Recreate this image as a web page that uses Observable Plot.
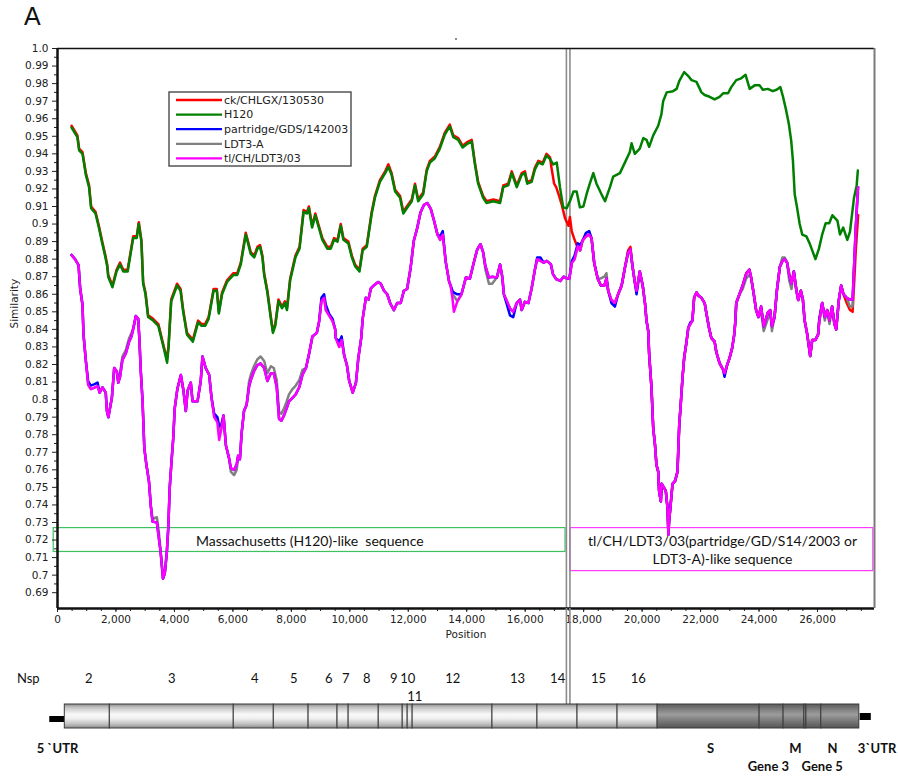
<!DOCTYPE html>
<html><head><meta charset="utf-8">
<script src="https://cdn.jsdelivr.net/npm/d3@7"></script>
<script src="https://cdn.jsdelivr.net/npm/@observablehq/plot@0.6"></script>
<style>
body{margin:0;background:#fff;}
#wrap{position:relative;width:898px;height:776px;overflow:hidden;background:#fff;}
#wrap svg{position:absolute;left:0;}
#titleA{position:absolute;left:24px;top:4px;font:25px "Liberation Sans",Arial,sans-serif;color:#111;line-height:25px;}
#speck{position:absolute;left:455px;top:38px;width:2px;height:2px;background:#666;border-radius:1px;}
</style></head><body><div id="wrap"><div id="titleA">A</div><div id="speck"></div></div>
<script>
// ---------- data ----------
const seriesNames = ["ck/CHLGX/130530","H120","partridge/GDS/142003","LDT3-A","tl/CH/LDT3/03"];
const seriesColors = ["#ff0000","#008000","#0000ff","#808080","#ff00ff"];

const h120 = [[480,.955],[680,.9495],[740,.942],[855,.940],[970,.928],[1080,.921],[1150,.909],[1300,.906],[1415,.898],[1530,.889],[1640,.881],[1700,.876],[1735,.870],[1880,.864],[2020,.873],[2140,.877],[2250,.873],[2400,.873],[2510,.884],[2590,.892],[2710,.892],[2780,.900],[2870,.890],[2930,.866],[3010,.860],[3100,.847],[3270,.845],[3450,.842],[3640,.829],[3750,.821],[3800,.830],[3890,.856],[4090,.865],[4210,.862],[4300,.850],[4430,.837],[4630,.833],[4810,.844],[4930,.842],[5050,.842],[5170,.846],[5340,.862],[5450,.862],[5520,.849],[5630,.860],[5800,.867],[6020,.871],[6150,.871],[6270,.877],[6440,.894],[6520,.889],[6610,.883],[6730,.881],[6840,.886],[6930,.887],[7010,.881],[7070,.871],[7180,.861],[7300,.846],[7370,.838],[7450,.842],[7560,.856],[7680,.852],[7780,.855],[7850,.851],[7960,.868],[8140,.881],[8280,.886],[8420,.907],[8540,.906],[8600,.909],[8710,.898],[8820,.905],[8940,.898],[9060,.891],[9230,.886],[9350,.886],[9460,.891],[9580,.890],[9690,.899],[9780,.891],[9950,.889],[10070,.881],[10180,.876],[10330,.873],[10440,.885],[10580,.887],[10750,.906],[10860,.915],[11030,.924],[11210,.929],[11320,.9325],[11430,.928],[11550,.9185],[11720,.915],[11830,.906],[11950,.909],[12120,.913],[12230,.922],[12340,.913],[12510,.917],[12630,.930],[12740,.935],[12910,.9375],[13080,.943],[13250,.951],[13420,.9556],[13540,.9495],[13710,.948],[13860,.9436],[14000,.9455],[14170,.947],[14280,.934],[14390,.923],[14560,.915],[14680,.912],[14910,.913],[15140,.912],[15250,.921],[15420,.922],[15540,.929],[15710,.921],[15880,.928],[15990,.929],[16070,.923],[16220,.924],[16330,.931],[16450,.935],[16600,.934],[16730,.939],[16850,.937],[16960,.934],[17080,.935],[17190,.921],[17300,.9095],[17420,.909],[17530,.913],[17650,.9185],[17760,.9185],[17870,.9095],[17990,.910],[18100,.917],[18210,.923],[18330,.929],[18440,.923],[18610,.917],[18730,.913],[18900,.921],[19010,.927],[19240,.929],[19410,.935],[19580,.941],[19640,.946],[19750,.940],[19920,.943],[20040,.949],[20150,.948],[20240,.944],[20380,.9505],[20550,.956],[20660,.9625],[20720,.970],[20840,.975],[21060,.9757],[21180,.977],[21270,.9814],[21440,.9866],[21580,.9843],[21690,.982],[21860,.981],[22030,.975],[22140,.9735],[22310,.9725],[22480,.971],[22650,.9725],[22770,.9745],[22940,.9745],[23050,.978],[23220,.982],[23390,.983],[23540,.985],[23680,.977],[23850,.979],[24020,.979],[24130,.9765],[24300,.977],[24470,.9757],[24600,.9765],[24730,.978],[24820,.9725],[24930,.9646],[25020,.957],[25100,.9475],[25160,.936],[25220,.917],[25300,.9095],[25390,.900],[25480,.894],[25620,.893],[25730,.889],[25820,.885],[25930,.880],[26050,.886],[26160,.894],[26280,.9005],[26400,.9005],[26510,.905],[26680,.902],[26770,.894],[26880,.898],[27020,.891],[27110,.8955],[27250,.915],[27340,.922],[27380,.9305]];

const tl = [[480,.8824],[600,.880],[720,.8766],[775,.8633],[855,.854],[890,.837],[970,.822],[1050,.8084],[1140,.806],[1250,.8067],[1370,.8077],[1440,.804],[1540,.807],[1650,.804],[1690,.7935],[1740,.790],[1860,.801],[1940,.818],[2030,.816],[2080,.8096],[2140,.813],[2220,.8225],[2340,.8264],[2450,.833],[2530,.836],[2600,.841],[2680,.8476],[2760,.846],[2800,.835],[2850,.816],[2910,.799],[2970,.7724],[3040,.763],[3130,.7533],[3190,.7398],[3250,.7305],[3400,.730],[3470,.7207],[3530,.713],[3610,.698],[3670,.701],[3740,.713],[3790,.727],[3840,.750],[3900,.7647],[3960,.778],[4010,.795],[4100,.806],[4220,.814],[4310,.805],[4390,.7935],[4450,.805],[4560,.8097],[4620,.799],[4790,.799],[4900,.8106],[4960,.8245],[5070,.818],[5190,.814],[5270,.801],[5360,.790],[5470,.787],[5530,.777],[5610,.7835],[5680,.791],[5760,.774],[5870,.7665],[5930,.761],[6040,.760],[6130,.763],[6180,.768],[6240,.766],[6300,.781],[6380,.7935],[6470,.797],[6550,.807],[6610,.811],[6720,.816],[6840,.8197],[6950,.8206],[7070,.818],[7180,.8106],[7300,.815],[7400,.815],[7500,.807],[7580,.789],[7660,.788],[7750,.791],[7840,.795],[7920,.799],[8040,.801],[8150,.803],[8270,.807],[8380,.814],[8500,.818],[8610,.8264],[8720,.836],[8870,.838],[8950,.8445],[9030,.856],[9120,.858],[9180,.851],[9290,.848],[9410,.8447],[9500,.840],[9520,.835],[9640,.830],[9720,.834],[9810,.825],[9900,.8197],[9980,.8106],[10100,.804],[10210,.8097],[10290,.8235],[10390,.835],[10440,.846],[10550,.858],[10640,.857],[10720,.8633],[10830,.8652],[10970,.867],[11060,.866],[11170,.862],[11280,.860],[11390,.8545],[11510,.851],[11620,.855],[11740,.855],[11850,.862],[11960,.863],[12080,.875],[12190,.8905],[12310,.898],[12420,.9067],[12540,.911],[12650,.912],[12770,.9086],[12880,.902],[13000,.894],[13090,.891],[13180,.894],[13280,.8786],[13400,.867],[13450,.865],[13510,.858],[13560,.850],[13680,.856],[13820,.860],[13970,.8695],[14110,.869],[14240,.878],[14360,.8856],[14470,.8885],[14560,.884],[14640,.876],[14760,.8695],[14870,.870],[15030,.8695],[15140,.877],[15220,.8695],[15270,.860],[15360,.8567],[15480,.852],[15590,.850],[15710,.855],[15820,.857],[15880,.851],[15990,.8557],[16110,.855],[16220,.8633],[16330,.8738],[16410,.880],[16520,.879],[16630,.878],[16740,.879],[16880,.877],[16950,.8715],[17060,.8686],[17200,.8676],[17310,.870],[17420,.869],[17510,.869],[17600,.878],[17690,.880],[17800,.8875],[17880,.885],[17960,.8905],[18080,.893],[18190,.894],[18270,.892],[18360,.878],[18480,.869],[18590,.865],[18710,.865],[18780,.869],[18840,.862],[18950,.8567],[19070,.855],[19180,.860],[19300,.865],[19410,.875],[19520,.8837],[19600,.8856],[19670,.876],[19750,.867],[19810,.862],[19920,.873],[20020,.865],[20100,.8547],[20150,.845],[20210,.839],[20240,.826],[20320,.807],[20380,.7837],[20440,.7743],[20490,.7629],[20550,.759],[20580,.748],[20640,.742],[20670,.752],[20740,.750],[20810,.748],[20870,.738],[20900,.723],[20920,.730],[20980,.7407],[21040,.752],[21130,.7537],[21210,.759],[21270,.7856],[21320,.797],[21380,.812],[21440,.824],[21520,.833],[21580,.841],[21650,.843],[21720,.845],[21780,.858],[21860,.861],[21940,.859],[22030,.858],[22140,.855],[22200,.849],[22290,.8408],[22370,.835],[22480,.833],[22540,.827],[22650,.8208],[22770,.817],[22820,.815],[22910,.8198],[22990,.8236],[23080,.8293],[23150,.8369],[23190,.8445],[23220,.855],[23330,.860],[23440,.865],[23560,.8715],[23670,.874],[23730,.8695],[23820,.860],[23900,.851],[23980,.847],[24070,.853],[24160,.8417],[24300,.8496],[24380,.851],[24440,.8418],[24530,.847],[24610,.862],[24710,.8755],[24800,.879],[24880,.880],[24960,.878],[25030,.8714],[25110,.866],[25190,.873],[25280,.862],[25340,.8567],[25430,.862],[25500,.857],[25560,.845],[25640,.838],[25700,.831],[25750,.8248],[25820,.834],[25930,.834],[26020,.837],[26060,.8445],[26160,.855],[26250,.847],[26330,.851],[26410,.845],[26500,.853],[26580,.843],[26640,.840],[26730,.8567],[26810,.865],[26890,.860],[27000,.858],[27110,.857],[27200,.857],[27250,.8755],[27310,.898],[27370,.917],[27390,.921]];

const partridge = [[480,.8824],[600,.880],[720,.8766],[775,.8633],[855,.854],[890,.837],[970,.822],[1050,.8104],[1140,.808],[1250,.8087],[1370,.8097],[1440,.804],[1540,.807],[1650,.804],[1690,.7935],[1740,.790],[1860,.801],[1940,.818],[2030,.816],[2080,.8096],[2140,.813],[2220,.8225],[2340,.8264],[2450,.833],[2530,.836],[2600,.841],[2680,.8476],[2760,.846],[2800,.835],[2850,.816],[2910,.799],[2970,.7724],[3040,.763],[3130,.7533],[3190,.7398],[3250,.7305],[3400,.730],[3470,.7207],[3530,.713],[3610,.698],[3670,.701],[3740,.713],[3790,.727],[3840,.750],[3900,.7647],[3960,.778],[4010,.795],[4100,.806],[4220,.814],[4310,.805],[4390,.7935],[4450,.805],[4560,.8097],[4620,.799],[4790,.799],[4900,.8106],[4960,.8245],[5070,.818],[5190,.814],[5270,.801],[5360,.792],[5470,.790],[5530,.785],[5610,.786],[5680,.791],[5760,.774],[5870,.7665],[5930,.761],[6040,.760],[6130,.763],[6180,.768],[6240,.766],[6300,.781],[6380,.7935],[6470,.797],[6550,.807],[6610,.811],[6720,.816],[6840,.8197],[6950,.8206],[7070,.818],[7180,.8106],[7300,.815],[7400,.815],[7500,.807],[7580,.789],[7660,.788],[7750,.791],[7840,.795],[7920,.799],[8040,.801],[8150,.803],[8270,.807],[8380,.814],[8500,.818],[8610,.8264],[8720,.836],[8870,.838],[8950,.8445],[9030,.858],[9120,.860],[9180,.854],[9290,.849],[9410,.846],[9500,.840],[9520,.835],[9640,.833],[9720,.836],[9810,.825],[9900,.8197],[9980,.8106],[10100,.804],[10210,.8097],[10290,.8235],[10390,.835],[10440,.846],[10550,.858],[10640,.857],[10720,.8633],[10830,.8652],[10970,.867],[11060,.866],[11170,.862],[11280,.860],[11390,.8545],[11510,.851],[11620,.855],[11740,.855],[11850,.862],[11960,.863],[12080,.875],[12190,.8905],[12310,.898],[12420,.9067],[12540,.911],[12650,.912],[12770,.9086],[12880,.902],[13000,.894],[13090,.893],[13180,.896],[13280,.8786],[13400,.867],[13450,.865],[13510,.862],[13560,.861],[13680,.860],[13820,.860],[13970,.8695],[14110,.869],[14240,.878],[14360,.8856],[14470,.8885],[14560,.884],[14640,.876],[14760,.8695],[14870,.870],[15030,.8695],[15140,.877],[15220,.8695],[15270,.860],[15360,.855],[15480,.848],[15590,.847],[15710,.855],[15820,.857],[15880,.851],[15990,.8557],[16110,.855],[16220,.8633],[16330,.8738],[16410,.881],[16520,.881],[16630,.878],[16740,.879],[16880,.877],[16950,.8715],[17060,.8686],[17200,.8676],[17310,.870],[17420,.869],[17510,.869],[17600,.879],[17690,.882],[17800,.889],[17880,.888],[17960,.8905],[18080,.895],[18190,.896],[18270,.892],[18360,.878],[18480,.869],[18590,.865],[18710,.865],[18780,.869],[18840,.862],[18950,.855],[19070,.853],[19180,.860],[19300,.865],[19410,.875],[19520,.8837],[19600,.8856],[19670,.876],[19750,.867],[19810,.860],[19920,.873],[20020,.865],[20100,.8547],[20150,.845],[20210,.839],[20240,.826],[20320,.807],[20380,.7837],[20440,.7743],[20490,.7629],[20550,.759],[20580,.748],[20640,.742],[20670,.752],[20740,.750],[20810,.748],[20870,.738],[20900,.723],[20920,.730],[20980,.7407],[21040,.752],[21130,.7537],[21210,.759],[21270,.7856],[21320,.797],[21380,.812],[21440,.824],[21520,.833],[21580,.841],[21650,.844],[21720,.845],[21780,.858],[21860,.861],[21940,.859],[22030,.858],[22140,.855],[22200,.849],[22290,.8408],[22370,.835],[22480,.833],[22540,.827],[22650,.8208],[22770,.817],[22820,.813],[22910,.8198],[22990,.8236],[23080,.8293],[23150,.8369],[23190,.8445],[23220,.855],[23330,.860],[23440,.865],[23560,.8715],[23670,.874],[23730,.8695],[23820,.860],[23900,.851],[23980,.847],[24070,.853],[24160,.8417],[24300,.8496],[24380,.851],[24440,.8418],[24530,.847],[24610,.862],[24710,.8755],[24800,.879],[24880,.880],[24960,.878],[25030,.8714],[25110,.866],[25190,.873],[25280,.862],[25340,.8567],[25430,.862],[25500,.857],[25560,.845],[25640,.838],[25700,.831],[25750,.8248],[25820,.834],[25930,.834],[26020,.837],[26060,.846],[26160,.855],[26250,.847],[26330,.851],[26410,.845],[26500,.853],[26580,.843],[26640,.840],[26730,.8567],[26810,.865],[26890,.860],[27000,.858],[27110,.857],[27200,.857],[27250,.8755],[27310,.898],[27370,.917],[27390,.921]];

const ldt3a = [[480,.8824],[600,.880],[720,.8766],[775,.8633],[855,.854],[890,.837],[970,.822],[1050,.8084],[1140,.806],[1250,.8067],[1370,.8077],[1440,.804],[1540,.807],[1650,.804],[1690,.7935],[1740,.790],[1860,.801],[1940,.818],[2030,.816],[2080,.8096],[2140,.815],[2220,.8245],[2340,.8284],[2450,.835],[2530,.838],[2600,.841],[2680,.8476],[2760,.846],[2800,.835],[2850,.816],[2910,.799],[2970,.7724],[3040,.763],[3130,.7533],[3190,.7398],[3250,.732],[3400,.733],[3470,.724],[3530,.713],[3610,.698],[3670,.701],[3740,.713],[3790,.727],[3840,.750],[3900,.7647],[3960,.778],[4010,.795],[4100,.806],[4220,.814],[4310,.805],[4390,.7935],[4450,.805],[4560,.8097],[4620,.799],[4790,.799],[4900,.8106],[4960,.8245],[5070,.818],[5190,.814],[5270,.801],[5360,.791],[5470,.789],[5530,.783],[5610,.786],[5680,.791],[5760,.774],[5870,.7665],[5930,.759],[6040,.757],[6130,.760],[6180,.768],[6240,.766],[6300,.781],[6380,.7935],[6470,.797],[6550,.810],[6610,.814],[6720,.819],[6840,.823],[6950,.8245],[7070,.822],[7180,.815],[7300,.819],[7400,.818],[7500,.811],[7580,.793],[7660,.792],[7750,.795],[7840,.799],[7920,.803],[8040,.806],[8150,.808],[8270,.811],[8380,.817],[8500,.818],[8610,.8264],[8720,.836],[8870,.838],[8950,.8445],[9030,.856],[9120,.858],[9180,.851],[9290,.848],[9410,.8447],[9500,.840],[9520,.835],[9640,.830],[9720,.834],[9810,.825],[9900,.8197],[9980,.8106],[10100,.804],[10210,.8097],[10290,.8235],[10390,.835],[10440,.846],[10550,.858],[10640,.857],[10720,.8633],[10830,.8652],[10970,.867],[11060,.866],[11170,.862],[11280,.860],[11390,.8545],[11510,.851],[11620,.855],[11740,.855],[11850,.862],[11960,.863],[12080,.875],[12190,.8905],[12310,.898],[12420,.9067],[12540,.911],[12650,.912],[12770,.9086],[12880,.902],[13000,.894],[13090,.891],[13180,.894],[13280,.8786],[13400,.867],[13450,.865],[13510,.860],[13560,.859],[13680,.856],[13820,.860],[13970,.8695],[14110,.869],[14240,.878],[14360,.8856],[14470,.8885],[14560,.884],[14640,.874],[14760,.866],[14870,.866],[15030,.8695],[15140,.877],[15220,.8695],[15270,.860],[15360,.8567],[15480,.852],[15590,.850],[15710,.855],[15820,.857],[15880,.851],[15990,.8557],[16110,.855],[16220,.8633],[16330,.8738],[16410,.880],[16520,.879],[16630,.878],[16740,.879],[16880,.877],[16950,.8715],[17060,.8686],[17200,.8676],[17310,.870],[17420,.869],[17510,.869],[17600,.878],[17690,.880],[17800,.8875],[17880,.885],[17960,.8905],[18080,.893],[18190,.894],[18270,.892],[18360,.878],[18480,.869],[18590,.869],[18710,.870],[18780,.872],[18840,.862],[18950,.8567],[19070,.855],[19180,.860],[19300,.865],[19410,.875],[19520,.8837],[19600,.8856],[19670,.876],[19750,.867],[19810,.862],[19920,.873],[20020,.865],[20100,.8547],[20150,.845],[20210,.839],[20240,.826],[20320,.807],[20380,.7837],[20440,.7743],[20490,.7629],[20550,.759],[20580,.748],[20640,.742],[20670,.752],[20740,.750],[20810,.748],[20870,.738],[20900,.723],[20920,.730],[20980,.7407],[21040,.752],[21130,.7537],[21210,.759],[21270,.7856],[21320,.797],[21380,.812],[21440,.824],[21520,.833],[21580,.841],[21650,.843],[21720,.845],[21780,.858],[21860,.861],[21940,.859],[22030,.858],[22140,.855],[22200,.849],[22290,.8408],[22370,.835],[22480,.833],[22540,.827],[22650,.8208],[22770,.817],[22820,.815],[22910,.8198],[22990,.8236],[23080,.8293],[23150,.8369],[23190,.8445],[23220,.855],[23330,.860],[23440,.863],[23560,.869],[23670,.871],[23730,.8695],[23820,.860],[23900,.851],[23980,.847],[24070,.850],[24160,.839],[24300,.846],[24380,.851],[24440,.839],[24530,.847],[24610,.862],[24710,.8755],[24800,.881],[24880,.881],[24960,.878],[25030,.868],[25110,.863],[25190,.873],[25280,.862],[25340,.8567],[25430,.862],[25500,.857],[25560,.845],[25640,.838],[25700,.831],[25750,.8248],[25820,.834],[25930,.834],[26020,.837],[26060,.8445],[26160,.855],[26250,.845],[26330,.851],[26410,.843],[26500,.853],[26580,.843],[26640,.840],[26730,.8567],[26810,.865],[26890,.860],[27000,.858],[27110,.853],[27200,.853],[27250,.8755],[27310,.898],[27370,.915],[27390,.918]];

const ck = [[480,.956],[680,.9505],[740,.943],[855,.941],[970,.929],[1080,.922],[1150,.910],[1300,.907],[1415,.899],[1530,.890],[1640,.882],[1700,.877],[1735,.871],[1880,.865],[2020,.874],[2140,.878],[2250,.874],[2400,.874],[2510,.885],[2590,.893],[2710,.893],[2780,.901],[2870,.891],[2930,.867],[3010,.861],[3100,.848],[3270,.846],[3450,.843],[3640,.830],[3750,.823],[3800,.831],[3890,.857],[4090,.866],[4210,.863],[4300,.851],[4430,.838],[4630,.834],[4810,.845],[4930,.843],[5050,.843],[5170,.847],[5340,.863],[5450,.863],[5520,.850],[5630,.861],[5800,.868],[6020,.872],[6150,.872],[6270,.878],[6440,.895],[6520,.890],[6610,.884],[6730,.882],[6840,.887],[6930,.888],[7010,.882],[7070,.872],[7180,.862],[7300,.847],[7370,.839],[7450,.843],[7560,.857],[7680,.853],[7780,.856],[7850,.852],[7960,.869],[8140,.882],[8280,.887],[8420,.908],[8540,.907],[8600,.910],[8710,.899],[8820,.906],[8940,.899],[9060,.892],[9230,.887],[9350,.887],[9460,.892],[9580,.891],[9690,.900],[9780,.892],[9950,.890],[10070,.882],[10180,.877],[10330,.874],[10440,.886],[10580,.888],[10750,.907],[10860,.916],[11030,.925],[11210,.930],[11320,.934],[11430,.929],[11550,.9195],[11720,.916],[11830,.907],[11950,.910],[12120,.914],[12230,.923],[12340,.914],[12510,.918],[12630,.931],[12740,.936],[12910,.9385],[13080,.944],[13250,.952],[13420,.9566],[13540,.9505],[13710,.949],[13860,.9446],[14000,.9465],[14170,.948],[14280,.935],[14390,.924],[14560,.916],[14680,.913],[14910,.914],[15140,.913],[15250,.922],[15420,.923],[15540,.930],[15710,.922],[15880,.929],[15990,.930],[16070,.924],[16220,.925],[16330,.932],[16450,.936],[16600,.935],[16730,.940],[16850,.938],[16900,.932],[16990,.923],[17060,.921],[17140,.917],[17250,.911],[17360,.9035],[17480,.899],[17530,.904],[17590,.896],[17670,.892],[17760,.888],[17800,.8875],[17880,.885],[17960,.8905],[18080,.893],[18190,.894],[18270,.892],[18360,.878],[18480,.869],[18590,.865],[18710,.865],[18780,.869],[18840,.862],[18950,.8567],[19070,.855],[19180,.860],[19300,.865],[19410,.875],[19520,.885],[19600,.887],[19670,.876],[19750,.867],[19810,.862],[19920,.873],[20020,.865],[20100,.8547],[20150,.845],[20210,.839],[20240,.826],[20320,.807],[20380,.7837],[20440,.7743],[20490,.7629],[20550,.759],[20580,.748],[20640,.742],[20670,.752],[20740,.750],[20810,.748],[20870,.738],[20900,.723],[20920,.730],[20980,.7407],[21040,.752],[21130,.7537],[21210,.759],[21270,.7856],[21320,.797],[21380,.812],[21440,.824],[21520,.833],[21580,.841],[21650,.843],[21720,.845],[21780,.858],[21860,.861],[21940,.859],[22030,.858],[22140,.855],[22200,.849],[22290,.8408],[22370,.835],[22480,.833],[22540,.827],[22650,.8208],[22770,.817],[22820,.815],[22910,.8198],[22990,.8236],[23080,.8293],[23150,.8369],[23190,.8445],[23220,.855],[23330,.860],[23440,.865],[23560,.872],[23670,.874],[23730,.8695],[23820,.860],[23900,.851],[23980,.847],[24070,.853],[24160,.8417],[24300,.8496],[24380,.851],[24440,.8418],[24530,.847],[24610,.862],[24710,.8755],[24800,.879],[24880,.880],[24960,.878],[25030,.8714],[25110,.866],[25190,.873],[25280,.862],[25340,.8567],[25430,.862],[25500,.857],[25560,.845],[25640,.838],[25700,.831],[25750,.8248],[25820,.834],[25930,.834],[26020,.837],[26060,.8445],[26160,.855],[26250,.847],[26330,.851],[26410,.845],[26500,.853],[26580,.843],[26640,.840],[26730,.8567],[26810,.865],[26890,.860],[27000,.855],[27110,.851],[27200,.850],[27250,.865],[27310,.885],[27370,.900],[27390,.905]];

const seriesData = [ck, h120, partridge, ldt3a, tl];

const yTicks = [0.69,0.70,0.71,0.72,0.73,0.74,0.75,0.76,0.77,0.78,0.79,0.80,0.81,0.82,0.83,0.84,0.85,0.86,0.87,0.88,0.89,0.90,0.91,0.92,0.93,0.94,0.95,0.96,0.97,0.98,0.99,1.0];
const xTicks = [0,2000,4000,6000,8000,10000,12000,14000,16000,18000,20000,22000,24000,26000];
const breakpoints = [17410, 17530];

const regionBoxes = [
  {x1:-130, x2:17380, y1:0.7132, y2:0.7268},
  {x1:17550, x2:27910, y1:0.7023, y2:0.7268}
];
const regionTexts = [
  {x:8630, y:0.7193, text:"Massachusetts (H120)-like  sequence"},
  {x:22750, y:0.7191, text:"tl/CH/LDT3/03(partridge/GD/S14/2003 or"},
  {x:22750, y:0.7090, text:"LDT3-A)-like sequence"}
];

// genome map
const nspSegments = [[250,1790],[1790,6030],[6030,7400],[7400,8590],[8590,9580],[9580,9960],[9960,10990],[10990,11810],[11810,11980],[11980,12150],[12150,14880],[14880,16420],[16420,17790],[17790,19160],[19160,20530]];
const structSegments = [[20530,24020],[24020,24840],[24840,25550],[25550,25620],[25620,26130],[26130,27430]];
const utr5 = [[-265,250]];
const utr3 = [[27460,27840]];
const nspLabels = [["Nsp",-1000],["2",1070],["3",3910],["4",6750],["5",8080],["6",9280],["7",9860],["8",10580],["9",11500],["10",11980],["12",13520],["13",15740],["14",17110],["15",18510],["16",19870]];
const nspLabels2 = [["11",12220]];
const geneLabels = [["5 `UTR",0],["S",22340],["M",25240],["N",26510],["3`UTR",28040]];
const geneLabels2 = [["Gene 3",24320],["Gene 5",26160]];

// ---------- chart ----------
const xDomain = [0, 27950];
const yDomain = [0.681, 1.0];
const fmtY = d => Math.abs(d - 1) < 1e-9 ? "1.0" : d3.format(".2~f")(d);
const minorX = d3.range(0, 27501, 500);
const minorY = yTicks.slice(0, -1).map(d => d + 0.005);
const drawOrder = [0, 3, 2, 1, 4];

const plot1 = Plot.plot({
  width: 898, height: 650,
  marginLeft: 57, marginRight: 24, marginTop: 48, marginBottom: 42,
  style: {fontFamily: "DejaVu Sans", fontSize: "10.5px", background: "transparent", color: "#222"},
  x: {domain: xDomain, axis: null},
  y: {domain: yDomain, axis: null},
  marks: [
    Plot.rect([regionBoxes[0]], {x1: "x1", x2: "x2", y1: "y1", y2: "y2", fill: "none", stroke: "#3cc060", strokeWidth: 1.2}),
    Plot.rect([regionBoxes[1]], {x1: "x1", x2: "x2", y1: "y1", y2: "y2", fill: "none", stroke: "#ff3cff", strokeWidth: 1.2}),
    Plot.text(regionTexts, {x: "x", y: "y", text: "text", fontFamily: "Lato", fontSize: 14, fill: "#111"}),
    Plot.ruleX(breakpoints, {stroke: "#8c8c8c", strokeWidth: 1.6}),
    ...drawOrder.map(i => Plot.line(seriesData[i], {x: d => d[0], y: d => d[1], stroke: seriesColors[i], strokeWidth: 2.5})),
    Plot.axisY({ticks: yTicks, tickFormat: fmtY, tickSize: 5, tickPadding: 4, label: null}),
    Plot.axisY({ticks: minorY, tickFormat: () => "", tickSize: 3, label: null}),
    Plot.axisX({ticks: xTicks, tickFormat: d3.format(","), tickSize: 4, tickPadding: 3, label: null}),
    Plot.axisX({ticks: minorX, tickFormat: () => "", tickSize: 3, label: null}),
    Plot.ruleX([xDomain[0]], {stroke: "#111", strokeWidth: 2.5}),
    Plot.ruleY([yDomain[0]], {stroke: "#111", strokeWidth: 2.5}),
    Plot.ruleY([yDomain[1]], {stroke: "#111", strokeWidth: 1.5}),
    Plot.ruleX([xDomain[1]], {stroke: "#7a7a7a", strokeWidth: 2}),
    Plot.text(["Position"], {frameAnchor: "bottom", dy: 29, fontSize: 10.5, fill: "#222"}),
    Plot.text(["Similarity"], {frameAnchor: "left", dx: -43, rotate: -90, fontSize: 10.5, fill: "#222"})
  ]
});
plot1.style.top = "0px";

const plot2 = Plot.plot({
  width: 898, height: 168,
  marginLeft: 57, marginRight: 24, marginTop: 0, marginBottom: 0,
  style: {fontFamily: "Lato", fontSize: "13px", background: "transparent", color: "#111"},
  x: {domain: xDomain, axis: null},
  y: {domain: [0, 168], range: [0, 168], axis: null},
  marks: [
    Plot.ruleX(breakpoints, {y1: 0, y2: 96, stroke: "#8c8c8c", strokeWidth: 1.6}),
    Plot.rect(utr5, {x1: d => d[0], x2: d => d[1], y1: 108, y2: 114, fill: "#000"}),
    Plot.rect(utr3, {x1: d => d[0], x2: d => d[1], y1: 105, y2: 112, fill: "#000"}),
    Plot.rect(nspSegments, {x1: d => d[0], x2: d => d[1], y1: 96, y2: 120, fill: "url(#gLight)", stroke: "#3a3a3a", strokeWidth: 1}),
    Plot.rect(structSegments, {x1: d => d[0], x2: d => d[1], y1: 96, y2: 120, fill: "url(#gDark)", stroke: "#3a3a3a", strokeWidth: 1}),
    Plot.text(nspLabels, {x: d => d[1], y: 70, text: d => d[0], fontSize: 13}),
    Plot.text(nspLabels2, {x: d => d[1], y: 88, text: d => d[0], fontSize: 13}),
    Plot.text(geneLabels, {x: d => d[1], y: 140, text: d => d[0], fontSize: 13, fontWeight: "bold"}),
    Plot.text(geneLabels2, {x: d => d[1], y: 158, text: d => d[0], fontSize: 13, fontWeight: "bold"})
  ]
});
plot2.style.top = "608px";
const defs = d3.select(plot2).insert("defs", ":first-child");
const gl = defs.append("linearGradient").attr("id", "gLight").attr("x1", 0).attr("y1", 0).attr("x2", 0).attr("y2", 1);
[[0,"#8e8e8e"],[0.15,"#c4c4c4"],[0.42,"#f8f8f8"],[0.6,"#f0f0f0"],[0.85,"#bcbcbc"],[1,"#8a8a8a"]].forEach(([o,c]) => gl.append("stop").attr("offset", o).attr("stop-color", c));
const gd = defs.append("linearGradient").attr("id", "gDark").attr("x1", 0).attr("y1", 0).attr("x2", 0).attr("y2", 1);
[[0,"#5a5a5a"],[0.3,"#8a8a8a"],[0.45,"#9c9c9c"],[0.6,"#868686"],[1,"#555555"]].forEach(([o,c]) => gd.append("stop").attr("offset", o).attr("stop-color", c));

const wrap = document.getElementById("wrap");
wrap.appendChild(plot1);
wrap.appendChild(plot2);

// legend overlay
const lg = d3.select(wrap).append("svg").attr("width", 898).attr("height", 200).style("top", "0px").style("left", "0px");
lg.append("rect").attr("x", 169).attr("y", 92).attr("width", 182).attr("height", 74).attr("fill", "#fff").attr("stroke", "#555").attr("stroke-width", 1.5);
seriesNames.forEach((name, i) => {
  const y = 100 + i * 14.6;
  lg.append("line").attr("x1", 176).attr("x2", 222).attr("y1", y).attr("y2", y).attr("stroke", seriesColors[i]).attr("stroke-width", 2.3);
  lg.append("text").attr("x", 224).attr("y", y).attr("dy", "0.35em").attr("font-family", "DejaVu Sans").attr("font-size", 11).attr("fill", "#222").text(name);
});
</script></body></html>
